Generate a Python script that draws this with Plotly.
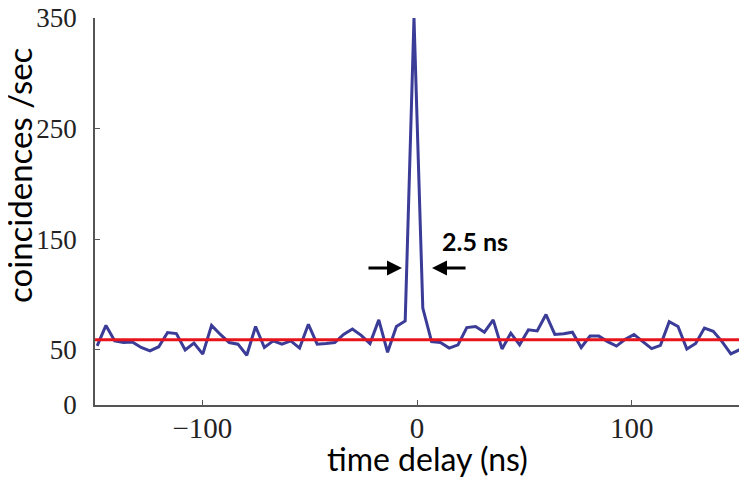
import plotly.graph_objects as go

# time bins (ns) and coincidence counts
delay_ns = [-149.0, -144.9, -140.8, -136.7, -132.6, -128.5, -124.4, -120.3, -116.2, -112.1,
            -108.0, -103.9, -99.8, -95.7, -91.6, -87.5, -83.4, -79.3, -75.2, -71.1,
            -67.0, -62.9, -58.8, -54.7, -50.6, -46.5, -42.4, -38.3, -34.2, -30.1,
            -26.0, -21.9, -17.8, -13.7, -9.6, -5.5, -1.4, 2.7, 6.8, 10.9,
            15.0, 19.1, 23.2, 27.3, 31.4, 35.5, 39.6, 43.7, 47.8, 51.9,
            56.0, 60.1, 64.2, 68.3, 72.4, 76.5, 80.6, 84.7, 88.8, 92.9,
            97.0, 101.1, 105.2, 109.3, 113.4, 117.5, 121.6, 125.7, 129.8, 133.9,
            138.0, 142.1, 146.2, 150.3]
counts = [53.5, 72, 58, 56.5, 57, 52, 49, 52.7, 65.5, 64.6,
          49.8, 56, 46, 72, 63.8, 56.5, 55, 45, 71, 52,
          58, 55, 58, 51.5, 73, 55, 55.6, 56.5, 63.8, 68.7,
          63, 55.6, 77, 47.7, 71, 76, 350, 87.6, 57.3, 56.5,
          51.5, 54.4, 70, 71, 65.8, 77, 50.7, 65, 54.4, 68,
          67, 81.8, 63.8, 64.4, 65.8, 52, 62.3, 62.3, 57.3, 53.3,
          59.4, 63.8, 57.3, 51, 54, 75.4, 71, 50.7, 55.6, 69.6,
          66.6, 57.3, 46.3, 50]
accidental_level = 59
x_ticks = [-100, 0, 100]
x_labels = ["\u2212100", "0", "100"]
y_ticks = [0, 50, 150, 250, 350]
y_labels = ["0", "50", "150", "250", "350"]

fig = go.Figure()
fig.add_trace(go.Scatter(x=delay_ns, y=counts, mode="lines",
                         line=dict(color="#3b3b98", width=3), showlegend=False))
fig.add_trace(go.Scatter(x=[-150, 150], y=[accidental_level, accidental_level], mode="lines",
                         line=dict(color="#e8141c", width=3), showlegend=False))

# FWHM marker
arrow = dict(xref="x", yref="y", axref="x", ayref="y", text="", showarrow=True,
             arrowhead=2, arrowsize=1, arrowwidth=3, arrowcolor="black")
fig.add_annotation(x=-7.0, y=124, ax=-23.3, ay=124, **arrow)
fig.add_annotation(x=7.0, y=124, ax=23.3, ay=124, **arrow)
fig.add_annotation(x=26.8, y=148.3, text="<b>2.5 ns</b>", showarrow=False,
                   font=dict(family="Lato", size=25, color="black"))

# axis titles
fig.add_annotation(xref="paper", yref="paper", x=0.516, y=-0.137, text="time delay (ns)",
                   showarrow=False, xanchor="center", yanchor="middle",
                   font=dict(family="Lato", size=32, color="black"))
fig.add_annotation(xref="paper", yref="paper", x=-0.118, y=0.592, text="coincidences /sec",
                   showarrow=False, xanchor="center", yanchor="middle", textangle=-90,
                   font=dict(family="Lato", size=33, color="black"))

common = dict(ticks="inside", ticklen=5, tickcolor="#555", showline=True,
              linecolor="#555", linewidth=1.5, showgrid=False, zeroline=False,
              automargin=False, ticklabeloverflow="allow")
fig.update_xaxes(range=[-150, 150], tickvals=x_ticks, ticktext=x_labels,
                 tickfont=dict(family="Liberation Serif", size=29, color="#222"),
                 ticklabelstandoff=-4, **common)
fig.update_yaxes(range=[0, 350], tickvals=y_ticks, ticktext=y_labels,
                 tickfont=dict(family="Liberation Serif", size=27, color="#222"),
                 ticklabelstandoff=11, **common)
# sized to sit inside the page's default 8px body margin
fig.update_layout(width=731, height=469, plot_bgcolor="white", paper_bgcolor="white",
                  margin=dict(l=87, r=0, t=10, b=72))

fig.write_html("out.html")
